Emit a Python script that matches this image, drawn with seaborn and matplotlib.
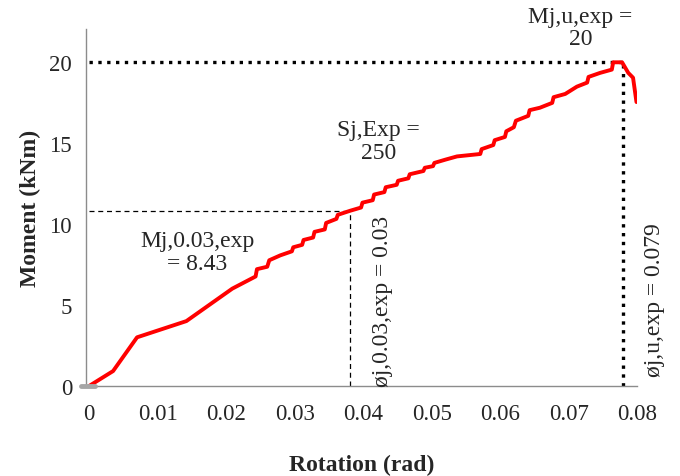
import pandas as pd
import numpy as np
import seaborn as sns
import matplotlib.pyplot as plt

sns.set_style("white")
plt.rcParams['font.family'] = ['Liberation Serif', 'DejaVu Serif']

# moment-rotation curve
rotation = [0.0000, 0.0035, 0.0070, 0.0142, 0.0209, 0.0243, 0.0245, 0.0260, 0.0263,
            0.0279, 0.0296, 0.0298, 0.0311, 0.0313, 0.0327, 0.0329, 0.0344, 0.0346,
            0.0361, 0.0363, 0.0381, 0.0397, 0.0399, 0.0414, 0.0416, 0.0431, 0.0433,
            0.0449, 0.0451, 0.0466, 0.0468, 0.0488, 0.0490, 0.0502, 0.0504, 0.0520,
            0.0537, 0.0571, 0.0573, 0.0590, 0.0592, 0.0607, 0.0609, 0.0620, 0.0623,
            0.0641, 0.0643, 0.0658, 0.0676, 0.0678, 0.0695, 0.0712, 0.0727, 0.0729,
            0.0746, 0.0763, 0.0765, 0.0778, 0.0787, 0.0794, 0.0799]
moment = [0.00, 0.92, 3.00, 4.00, 6.00, 6.75, 7.20, 7.35, 7.75,
          8.05, 8.30, 8.55, 8.70, 9.00, 9.15, 9.50, 9.65, 10.05,
          10.30, 10.55, 10.80, 11.00, 11.30, 11.45, 11.80, 11.95, 12.25,
          12.40, 12.65, 12.80, 13.05, 13.25, 13.45, 13.55, 13.75, 13.95,
          14.15, 14.30, 14.60, 14.85, 15.15, 15.35, 15.70, 15.95, 16.35,
          16.65, 17.00, 17.15, 17.45, 17.80, 18.00, 18.45, 18.70, 19.05,
          19.30, 19.50, 19.95, 19.95, 19.30, 19.00, 17.50]
df = pd.DataFrame({"rotation": rotation, "moment": moment})

# reference values
m_u, phi_u = 20, 0.078
m_03, phi_03 = 10.8, 0.0381
base_x = [-0.0012, 0.0008]
base_y = [0, 0]

fig = plt.figure(figsize=(6.8, 4.77), dpi=100)
ax = fig.add_axes([0.1265, 0.1887, 0.8105, 0.7483])

sns.lineplot(data=df, x="rotation", y="moment", sort=False, estimator=None,
             color="#ff0000", linewidth=2.8, ax=ax, zorder=3)
ax.plot(base_x, base_y, color="#a6a6a6", linewidth=3.5, clip_on=False, zorder=4)

# guide lines
ax.plot([0, phi_u], [m_u, m_u], color="black", linestyle=":", linewidth=2.4)
ax.plot([phi_u, phi_u], [0, m_u], color="black", linestyle=":", linewidth=2.4)
ax.plot([0, phi_03], [m_03, m_03], color="black", linestyle=(0, (4, 3)), linewidth=0.9)
ax.plot([phi_03, phi_03], [0, m_03], color="black", linestyle=(0, (4, 3)), linewidth=0.9)

ax.set_xlim(-0.00045, 0.08)
ax.set_ylim(0, 22)
ax.set_xticks(np.arange(0, 0.081, 0.01))
ax.set_xticklabels(["0", "0.01", "0.02", "0.03", "0.04", "0.05", "0.06", "0.07", "0.08"])
ax.set_yticks([0, 5, 10, 15, 20])
ax.tick_params(axis="both", length=0, labelsize=16.5)
ax.tick_params(axis="x", pad=12)
ax.tick_params(axis="y", pad=10)

for s in ["top", "right"]:
    ax.spines[s].set_visible(False)
for s in ["left", "bottom"]:
    ax.spines[s].set_color("#8c8c8c")
    ax.spines[s].set_linewidth(1.0)

ax.set_xlabel("Rotation (rad)", fontsize=17, fontweight="bold", labelpad=22)
ax.set_ylabel("Moment (kNm)", fontsize=17, fontweight="bold", labelpad=6)

# annotations
ax.text(0.0717, 22.1, "Mj,u,exp =\n20", fontsize=17, ha="center", va="center",
        linespacing=1.1, clip_on=False)
ax.text(0.0422, 15.1, "Sj,Exp =\n250", fontsize=17, ha="center", va="center",
        linespacing=1.1)
ax.text(0.0158, 8.25, "Mj,0.03,exp\n= 8.43", fontsize=17, ha="center", va="center",
        linespacing=1.1)
ax.text(0.0428, 5.3, "øj,0.03,exp = 0.03", fontsize=17, rotation=90,
        ha="center", va="center", clip_on=False)
ax.text(0.0826, 5.35, "øj,u,exp = 0.079", fontsize=17, rotation=90,
        ha="center", va="center", clip_on=False)

fig.savefig("out.png", dpi=100)
